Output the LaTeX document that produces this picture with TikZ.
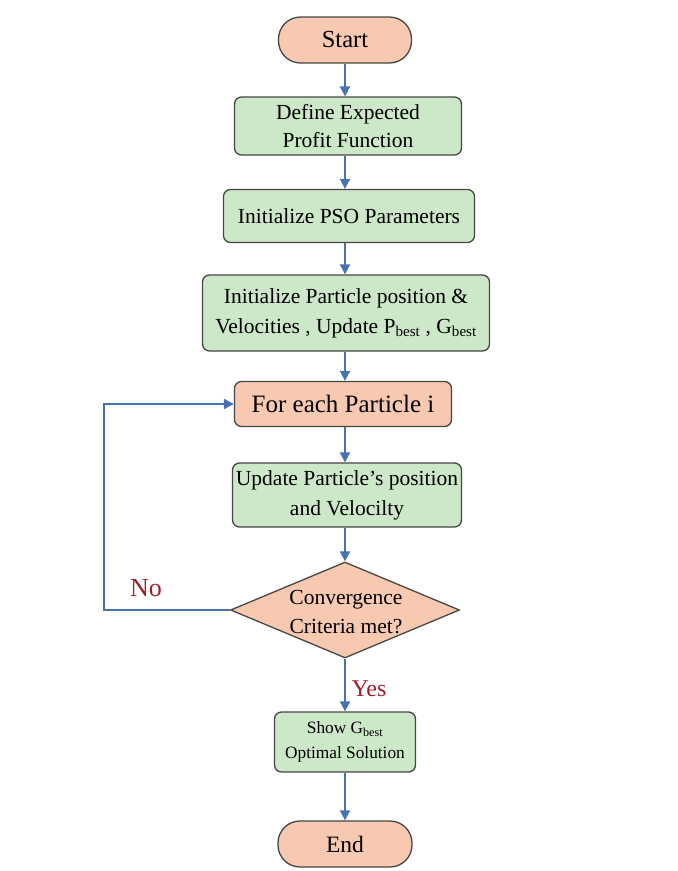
\documentclass[tikz,border=0pt]{standalone}
\usepackage{fontspec}
\setmainfont{Liberation Serif}
\usetikzlibrary{shapes.geometric,arrows.meta}
\definecolor{peach}{RGB}{246,201,176}
\definecolor{mint}{RGB}{205,232,200}
\definecolor{edge}{RGB}{70,70,70}
\definecolor{flow}{RGB}{70,114,180}
\definecolor{lab}{RGB}{160,30,40}
\tikzset{
  box/.style={draw=edge, line width=1.3pt, rounded corners=7pt, align=center, inner sep=0pt},
  greenbox/.style={box, fill=mint},
  peachbox/.style={box, fill=peach},
  term/.style={draw=edge, line width=1.3pt, fill=peach, rounded corners=22pt, inner sep=0pt},
  decide/.style={draw=edge, line width=1.3pt, fill=peach, diamond, inner sep=0pt, align=center},
  flowline/.style={draw=flow, line width=2pt, -{Triangle[length=10pt,width=10pt]}},
  lbl/.style={text=lab}
}
\begin{document}
\begin{tikzpicture}[x=1pt,y=-1pt]
\useasboundingbox (0,0) rectangle (678,871);
\node[term, minimum width=133pt, minimum height=46pt, font=\fontsize{24.5}{28}\selectfont] (start) at (345,40) {Start};
\node[greenbox, minimum width=227pt, minimum height=58pt, font=\fontsize{21.5}{28}\selectfont] (define) at (348,126) {Define Expected\\Profit Function};
\node[greenbox, minimum width=251pt, minimum height=53pt, font=\fontsize{21.5}{28}\selectfont] (pso) at (349,216) {Initialize PSO Parameters};
\node[greenbox, minimum width=287pt, minimum height=76pt, font=\fontsize{21.5}{30}\selectfont] (initp) at (346,313) {Initialize Particle position \&\\Velocities , Update P\textsubscript{best} , G\textsubscript{best}};
\node[peachbox, minimum width=217pt, minimum height=45pt, font=\fontsize{25}{29}\selectfont] (each) at (343,404) {For each Particle i};
\node[greenbox, minimum width=229pt, minimum height=64pt, font=\fontsize{21.5}{30}\selectfont] (upd) at (347,495) {Update Particle’s position\\and Velocilty};
\node[decide, minimum width=229pt, minimum height=96pt] (conv) at (345,610) {};
\node[align=center, font=\fontsize{21.5}{29}\selectfont] (convtext) at (346,612) {Convergence\\Criteria met?};
\node[greenbox, minimum width=141pt, minimum height=60pt, font=\fontsize{17.3}{25}\selectfont] (show) at (345,742) {Show G\textsubscript{best}\\Optimal Solution};
\node[term, minimum width=134pt, minimum height=46pt, font=\fontsize{23.5}{27}\selectfont] (end) at (345,844) {End};
\coordinate (c1) at (104,610);
\coordinate (c2) at (104,404);
\coordinate (ax) at (345,0);
\draw[flowline] (ax |- start.south) -- (ax |- define.north);
\draw[flowline] (ax |- define.south) -- (ax |- pso.north);
\draw[flowline] (ax |- pso.south) -- (ax |- initp.north);
\draw[flowline] (ax |- initp.south) -- (ax |- each.north);
\draw[flowline] (ax |- each.south) -- (ax |- upd.north);
\draw[flowline] (ax |- upd.south) -- (conv.north);
\draw[flowline] (conv.south) -- (ax |- show.north);
\draw[flowline] (ax |- show.south) -- (ax |- end.north);
\draw[flowline] (conv.west) -- (c1) -- (c2) -- (each.west);
\node[lbl, font=\fontsize{26}{30}\selectfont] (no) at (146,588) {No};
\node[lbl, font=\fontsize{24}{28}\selectfont] (yes) at (369,689) {Yes};
\end{tikzpicture}
\end{document}
